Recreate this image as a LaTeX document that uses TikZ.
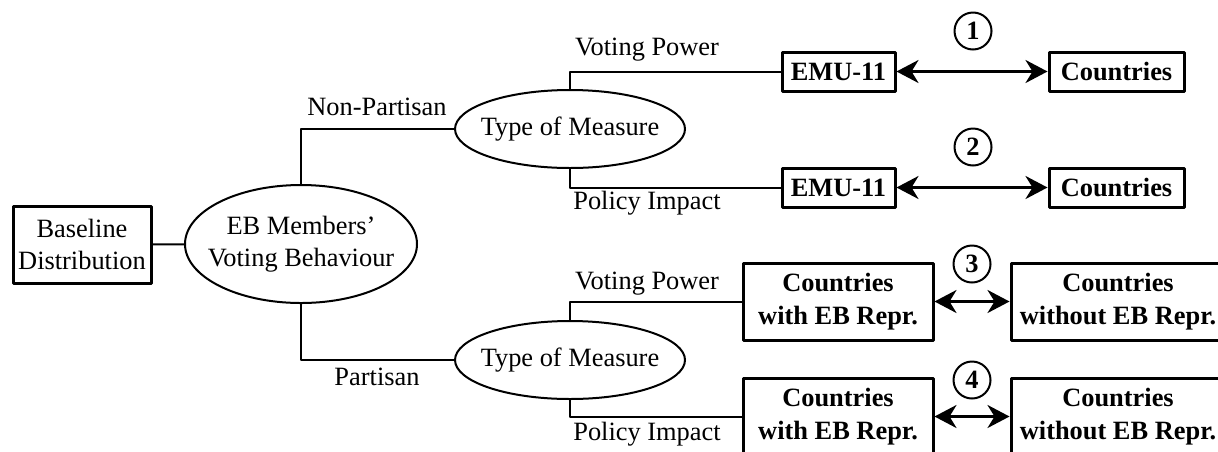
\documentclass[tikz,border=0pt]{standalone}
\usepackage{fontspec}
\setmainfont{Liberation Serif}
\usetikzlibrary{shapes.geometric,arrows.meta}
\begin{document}
\begin{tikzpicture}[x=0.5pt, y=-0.5pt, line join=round, font=\fontsize{13.2}{16}\selectfont,
	box/.style={draw, line width=1.5pt, inner sep=0pt, align=center},
	boldbox/.style={box, font=\fontsize{13.2}{16.5}\selectfont\bfseries},
	oval/.style={draw, ellipse, line width=1pt, inner ysep=0pt, align=center},
	lab/.style={inner sep=0pt},
	num/.style={draw, circle, line width=1pt, inner sep=0pt, minimum size=18.5pt, font=\fontsize{13.2}{16}\selectfont\bfseries},
	link/.style={line width=1pt},
	both/.style={line width=1.5pt, {Stealth[length=11pt,width=11.5pt,inset=3.5pt]}-{Stealth[length=11pt,width=11.5pt,inset=3.5pt]}}]
	\path[use as bounding box, clip] (0,0) rectangle (1218,451);
	% left part
	\node[box, minimum width=69pt, minimum height=38.5pt] (base) at (82,244.5) {Baseline\\Distribution};
	\node[oval, inner xsep=-7pt, minimum width=116pt, minimum height=59pt] (eb) at (301,244) {EB Members'\\Voting Behaviour};
	\node[oval, inner xsep=-4pt, minimum width=115pt, minimum height=39pt] (tm1) at (570,129) {Type of Measure};
	\node[oval, inner xsep=-4pt, minimum width=115pt, minimum height=39pt] (tm2) at (570,360) {Type of Measure};
	% branch labels
	\node[lab] (np) at (377,107) {Non-Partisan};
	\node[lab] (pa) at (377,377) {Partisan};
	\node[lab] (vp1) at (647,50) {Voting Power};
	\node[lab] (pi1) at (647,203) {Policy Impact};
	\node[lab] (vp2) at (647,284) {Voting Power};
	\node[lab] (pi2) at (647,434) {Policy Impact};
	% comparison groups
	\node[boldbox, minimum width=56.5pt, minimum height=19.5pt] (emu1) at (838.5,71.5) {EMU-11};
	\node[boldbox, minimum width=56.5pt, minimum height=19.5pt] (emu2) at (838.5,187.5) {EMU-11};
	\node[boldbox, minimum width=67.5pt, minimum height=19.5pt] (cty1) at (1116.5,71.5) {Countries};
	\node[boldbox, minimum width=67.5pt, minimum height=19.5pt] (cty2) at (1116.5,187.5) {Countries};
	\node[boldbox, minimum width=95pt, minimum height=38.5pt] (cw1) at (838,301.5) {Countries\\with EB Repr.};
	\node[boldbox, minimum width=95pt, minimum height=38.5pt] (cw2) at (838,416.5) {Countries\\with EB Repr.};
	\node[boldbox, minimum width=107pt, minimum height=38.5pt] (co1) at (1118,301.5) {Countries\\without EB Repr.};
	\node[boldbox, minimum width=107pt, minimum height=38.5pt] (co2) at (1118,416.5) {Countries\\without EB Repr.};
	% numbers
	\node[num] (n1) at (973,31) {1};
	\node[num] (n2) at (973,147) {2};
	\node[num] (n3) at (972,264) {3};
	\node[num] (n4) at (972,380) {4};
	% connectors
	\draw[link] (base) -- (eb);
	\draw[link] (eb.north) |- (tm1.west);
	\draw[link] (eb.south) |- (tm2.west);
	\foreach \t/\a/\b in {tm1/emu1/emu2, tm2/cw1/cw2} {
		\draw[link] (\t.north) |- (\a.west);
		\draw[link] (\t.south) |- (\b.west);
	}
	\foreach \a/\b in {emu1/cty1, emu2/cty2, cw1/co1, cw2/co2}
		\draw[both] (\a) -- (\b);
\end{tikzpicture}
\end{document}
